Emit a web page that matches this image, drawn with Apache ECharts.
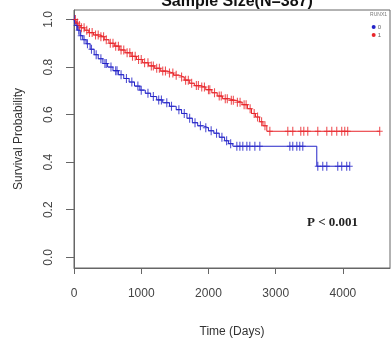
<!DOCTYPE html>
<html><head><meta charset="utf-8">
<script src="https://cdn.jsdelivr.net/npm/echarts@6/dist/echarts.min.js"></script>
<style>html,body{margin:0;padding:0;background:#fff}#c{width:392px;height:343px}</style>
</head><body><div id="c"></div>
<script>
const titleText = "Sample Size(N=387)";
const legendTitle = "RUNX1";
const groupNames = ["0", "1"];
const xTicks = [0, 1000, 2000, 3000, 4000];
const yTicks = [0, 0.2, 0.4, 0.6, 0.8, 1.0];

// KM step events [day, survival] — group 0 (blue)
const events0 = [[0,1.0],[20,0.975],[50,0.955],[90,0.932],[130,0.915],[180,0.898],[240,0.875],[300,0.852],[360,0.835],[430,0.815],[500,0.800],[580,0.785],[660,0.768],[740,0.752],[820,0.737],[900,0.720],[980,0.703],[1060,0.690],[1140,0.676],[1230,0.662],[1320,0.650],[1420,0.635],[1520,0.621],[1600,0.605],[1680,0.585],[1760,0.566],[1840,0.553],[1920,0.545],[2000,0.532],[2080,0.522],[2160,0.505],[2240,0.490],[2300,0.478],[2363,0.467],[3611,0.383],[4101,0.383]];
// group 1 (red)
const events1 = [[0,1.0],[30,0.985],[60,0.975],[100,0.965],[160,0.955],[220,0.945],[290,0.935],[380,0.928],[450,0.915],[520,0.900],[600,0.888],[680,0.872],[760,0.860],[850,0.845],[930,0.832],[1020,0.818],[1110,0.805],[1200,0.795],[1290,0.783],[1380,0.775],[1480,0.766],[1560,0.758],[1640,0.745],[1720,0.732],[1790,0.722],[1880,0.716],[1960,0.705],[2050,0.692],[2130,0.678],[2210,0.667],[2300,0.660],[2400,0.652],[2500,0.642],[2580,0.625],[2640,0.605],[2700,0.590],[2760,0.570],[2810,0.553],[2868,0.530],[4550,0.530]];

// censoring times
const censor0 = [10,40,70,100,150,200,260,330,400,460,480,550,620,640,700,780,860,950,1000,1100,1180,1260,1300,1380,1450,1560,1640,1720,1800,1880,1960,2040,2120,2200,2270,2330,2422,2467,2511,2571,2615,2690,2764,3210,3254,3314,3358,3403,3626,3700,3760,3923,3982,4056,4101];
const censor1 = [20,50,80,110,150,190,230,270,320,360,400,440,480,540,580,620,660,700,740,790,830,870,910,960,1000,1050,1100,1150,1180,1230,1270,1320,1360,1420,1470,1520,1600,1660,1700,1750,1820,1850,1900,1940,2000,2020,2090,2160,2190,2250,2280,2340,2370,2430,2470,2530,2560,2620,2680,2730,2790,2840,2913,3180,3254,3373,3418,3477,3626,3760,3834,3908,3982,4027,4071,4547];

const pValueText = "P < 0.001";

const colors = ['#2424c8', '#e8262b'];

function survAt(ev, t) {
  let s = ev[0][1];
  for (const e of ev) { if (e[0] <= t) s = e[1]; else break; }
  return s;
}
const plus = 'path://M-0.18,-1H0.18V-0.12H1V0.12H0.18V1H-0.18V0.12H-1V-0.12H-0.18Z';

const chart = echarts.init(document.getElementById('c'));
chart.setOption({
  animation: false,
  title: {
    text: titleText, left: 232, textAlign: 'center', top: -11,
    textStyle: { fontFamily: 'Liberation Sans', fontWeight: 'bold', fontSize: 16, color: '#111' }
  },
  legend: {
    data: groupNames, orient: 'vertical', right: 6, top: 19, icon: 'circle',
    itemWidth: 4, itemHeight: 4, itemGap: 2,
    textStyle: { fontSize: 6, color: '#666', padding: [0,0,0,-3] }
  },
  graphic: [
    { type: 'text', right: 5, top: 12, style: { text: legendTitle, font: '5px Liberation Sans', fill: '#777' } },
    { type: 'text', left: 307, top: 216, style: { text: pValueText, font: 'bold 13px Liberation Serif', fill: '#222' } }
  ],
  grid: { left: 74, top: 10, right: 2, bottom: 66, show: true, borderColor: '#666', borderWidth: 1 },
  xAxis: {
    type: 'value', min: 0, max: 4700,
    name: 'Time (Days)', nameLocation: 'middle', nameGap: 58,
    nameTextStyle: { fontFamily: 'Liberation Sans', fontSize: 12, color: '#333' },
    axisLine: { show: true, onZero: false, lineStyle: { color: '#666' } },
    axisTick: { show: true, length: 6, customValues: xTicks, lineStyle: { color: '#666' } },
    axisLabel: { customValues: xTicks, margin: 20, fontFamily: 'Liberation Sans', fontSize: 12, color: '#444',
      formatter: v => String(v) },
    splitLine: { show: false }
  },
  yAxis: {
    type: 'value', min: -0.045, max: 1.04,
    name: 'Survival Probability', nameLocation: 'middle', nameGap: 49,
    nameTextStyle: { fontFamily: 'Liberation Sans', fontSize: 12, color: '#333' },
    axisLine: { show: true, onZero: false, lineStyle: { color: '#666' } },
    axisTick: { show: true, length: 8, customValues: yTicks, lineStyle: { color: '#666' } },
    axisLabel: { customValues: yTicks, rotate: 90, margin: 19, fontFamily: 'Liberation Sans', fontSize: 12, color: '#444',
      formatter: v => v.toFixed(1) },
    splitLine: { show: false }
  },
  series: [
    { name: groupNames[0], type: 'line', step: 'end', showSymbol: false, data: events0,
      lineStyle: { color: colors[0], width: 1 }, itemStyle: { color: colors[0] } },
    { name: groupNames[1], type: 'line', step: 'end', showSymbol: false, data: events1,
      lineStyle: { color: colors[1], width: 1 }, itemStyle: { color: colors[1] } },
    { name: groupNames[0], type: 'scatter', symbol: plus, symbolSize: [6, 9],
      data: censor0.map(t => [t, survAt(events0, t)]), itemStyle: { color: colors[0] } },
    { name: groupNames[1], type: 'scatter', symbol: plus, symbolSize: [6, 9],
      data: censor1.map(t => [t, survAt(events1, t)]), itemStyle: { color: colors[1] } }
  ]
});
</script></body></html>
